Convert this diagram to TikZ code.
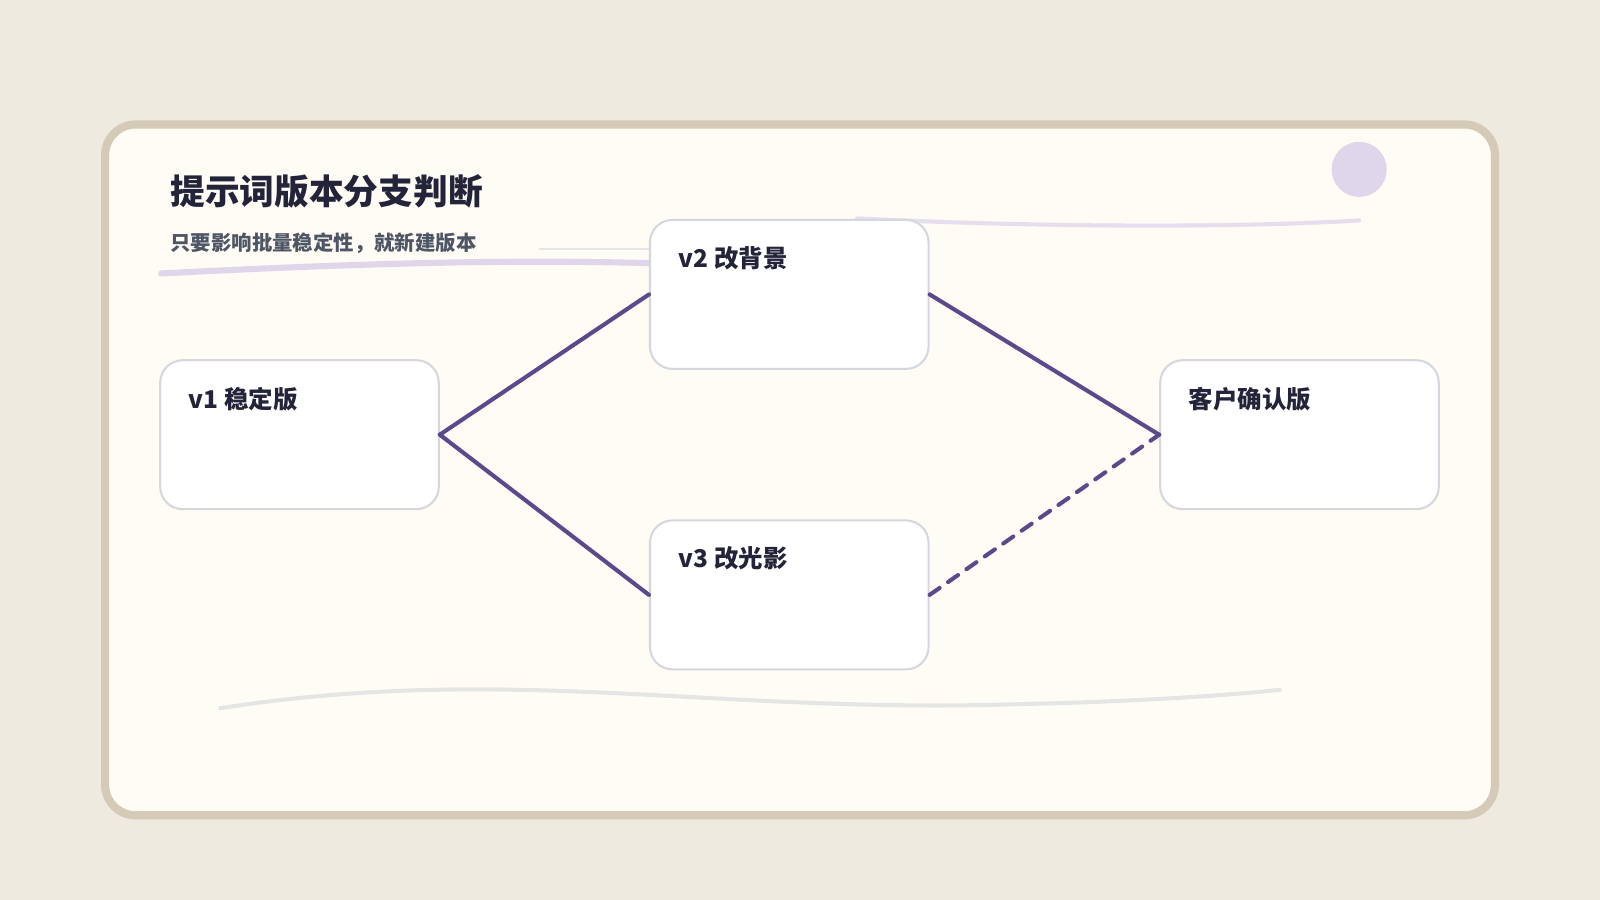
\documentclass[tikz,border=0pt]{standalone}
\usepackage{fontspec}
\setmainfont{Noto Sans CJK SC}
\usetikzlibrary{positioning}
\definecolor{bg}{HTML}{EFEAE0}
\definecolor{card}{HTML}{FFFCF5}
\definecolor{cardline}{HTML}{D5C9B8}
\definecolor{lav}{HTML}{DED6EA}
\definecolor{edge}{HTML}{5B4A8B}
\definecolor{boxline}{HTML}{D6D6DE}
\definecolor{ink}{HTML}{23233A}
\definecolor{sub}{HTML}{4E5666}
\begin{document}
\begin{tikzpicture}[x=0.5pt,y=-0.5pt]
  \tikzset{stepbox/.style={draw=boxline,line width=1pt,fill=white,rounded corners=11pt,
      minimum width=136.5pt,minimum height=73pt,inner sep=0pt},
    boxtext/.style={font=\fontsize{12}{14}\selectfont\bfseries,text=ink,anchor=north west},
    link/.style={draw=edge,line width=2pt,line cap=round}};
  \useasboundingbox[fill=bg] (0,0) rectangle (1568,882);
  \draw[cardline,fill=card,line width=4pt,rounded corners=15pt] (103,122) rectangle (1465,799);
  \fill[lav] (1332,166) circle (13.5pt);
  % strokes behind the boxes
  \draw[lav,line width=3pt,line cap=round] (158,268) .. controls (350,258) and (500,254) .. (640,258);
  \draw[lav!80,line width=2pt,line cap=round] (840,214) .. controls (1000,222) and (1200,224) .. (1332,216);
  \draw[black!10,line width=1pt] (528,244) -- (640,244);
  \draw[black!10,line width=2pt,line cap=round] (216,694) .. controls (500,650) and (700,700) .. (1000,690) .. controls (1100,688) and (1200,682) .. (1254,676);
  % title
  \node[anchor=west,font=\fontsize{17}{20}\selectfont\bfseries,text=ink] (title) at (160,188) {提示词版本分支判断};
  \node[anchor=west,font=\fontsize{10}{12}\selectfont\bfseries,text=sub] (subtitle) at (160,238) {只要影响批量稳定性，就新建版本};
  % boxes
  \node[stepbox] (v1) at (293.5,426) {};
  \node[stepbox] (v2) at (773.5,288.5) {};
  \node[stepbox] (v3) at (773.5,583) {};
  \node[stepbox] (ok) at (1273.5,426) {};
  \node[boxtext] at ([shift={(11pt,-10pt)}]v1.north west) {v1 稳定版};
  \node[boxtext] at ([shift={(11pt,-10pt)}]v2.north west) {v2 改背景};
  \node[boxtext] at ([shift={(11pt,-10pt)}]v3.north west) {v3 改光影};
  \node[boxtext] at ([shift={(11pt,-10pt)}]ok.north west) {客户确认版};
  % links
  \draw[link] (v1.east) -- (v2.west);
  \draw[link] (v1.east) -- (v3.west);
  \draw[link] (v2.east) -- (ok.west);
  \draw[link,dash pattern=on 6pt off 5pt] (v3.east) -- (ok.west);
\end{tikzpicture}
\end{document}
